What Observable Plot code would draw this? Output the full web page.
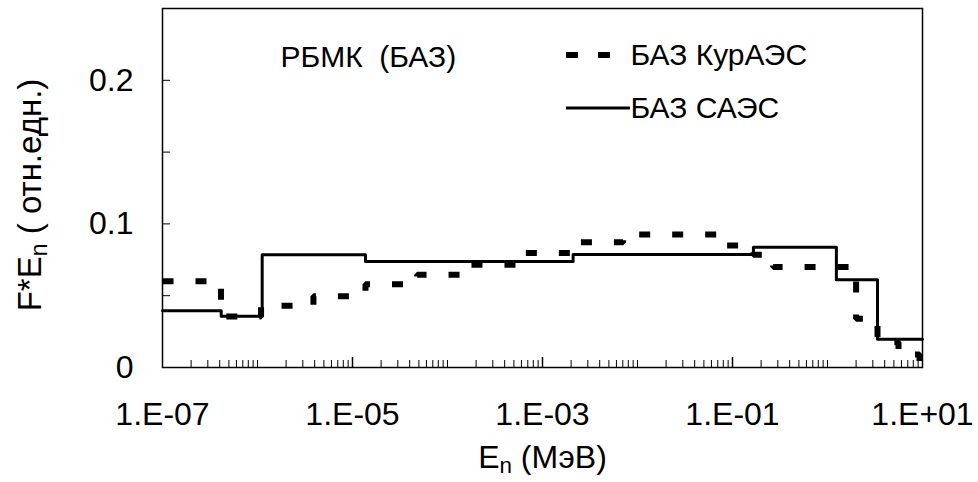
<!DOCTYPE html>
<html><head><meta charset="utf-8">
<script src="https://cdn.jsdelivr.net/npm/d3@7"></script>
<script src="https://cdn.jsdelivr.net/npm/@observablehq/plot@0.6"></script>
<style>body{margin:0;background:#fff} svg{display:block}</style>
</head><body><div id="chart"></div>
<script>
// ---- data ----
// group boundaries (MeV) and values of the step spectra
const edgesKur  = [1e-7, 4.13e-7, 1.09e-6, 3.88e-6, 1.37e-5, 4.8e-5, 1.66e-4, 5.86e-4, 2.06e-3, 7.06e-3, 0.0865, 0.166, 0.268, 2.0, 3.36, 5.59, 9.3, 10];
const valuesKur = [0.060, 0.0355, 0.043, 0.0497, 0.058, 0.0646, 0.0716, 0.0797, 0.0873, 0.0927, 0.085, 0.0785, 0.070, 0.034, 0.0176, 0.009, 0.004];
const edgesSaes  = [1e-7, 4.15e-7, 1.12e-6, 1.37e-5, 2.1e-3, 0.166, 1.24, 3.36, 10];
const valuesSaes = [0.0395, 0.0357, 0.0785, 0.0739, 0.0787, 0.0838, 0.0611, 0.0197];
const seriesNames = ["БАЗ КурАЭС", "БАЗ САЭС"];
const annotation = "РБМК\u00a0 (БАЗ)";
const xTitle = "E_n (МэВ)";
const yTitle = "F*E_n ( отн.едн.)";
const xLabelTicks = [1e-7, 1e-5, 1e-3, 1e-1, 1e1];
const xMajorInner = [1e-5, 1e-3, 1e-1];
const yLabelTicks = [0, 0.1, 0.2];
const yTickMarks = [0.05, 0.1, 0.15, 0.2];
const xDomain = [1e-7, 10];
const yDomain = [0, 0.25];

// ---- layout ----
const W = 978, H = 482, mL = 162, mR = 56, mT = 8, mB = 115;
const plotW = W - mL - mR, plotH = H - mT - mB;

function steps(edges, values) {
  return values.map((v, i) => ({x: edges[i], y: v}))
    .concat([{x: edges[edges.length - 1], y: values[values.length - 1]}]);
}
const minorX = [];
for (let d = -7; d <= 0; d++) {
  for (let k = 2; k <= 9; k++) minorX.push(+(k * Math.pow(10, d)).toPrecision(3));
  if (d > -7 && d % 2 === 0) minorX.push(Math.pow(10, d));
}
const fmtX = v => {
  const e = Math.round(Math.log10(v));
  return "1.E" + (e < 0 ? "-" : "+") + String(Math.abs(e)).padStart(2, "0");
};

const font = "'Liberation Sans', Arial, Helvetica, sans-serif";
const chart = Plot.plot({
  width: W, height: H,
  marginLeft: mL, marginRight: mR, marginTop: mT, marginBottom: mB,
  x: {type: "log", domain: xDomain, axis: null},
  y: {domain: yDomain, axis: null},
  style: {fontFamily: font, background: "#fff", color: "#000"},
  marks: [
    Plot.ruleX(minorX, {insetTop: plotH - 7, stroke: "#000", strokeWidth: 1}),
    Plot.ruleX(xMajorInner, {insetTop: plotH - 10, stroke: "#000", strokeWidth: 1.5}),
    Plot.ruleY(yTickMarks, {insetRight: plotW - 8, stroke: "#000", strokeWidth: 1}),
    Plot.line(steps(edgesSaes, valuesSaes), {x: "x", y: "y", curve: "step-after", stroke: "#000", strokeWidth: 3}),
    Plot.line(steps(edgesKur, valuesKur), {x: "x", y: "y", curve: "step-after", stroke: "#000", strokeWidth: 6,
      strokeDasharray: "11,22", strokeLinecap: "butt", strokeLinejoin: "miter"}),
    Plot.frame({stroke: "#000", strokeWidth: 1.5}),
    Plot.text(xLabelTicks, {x: d => d, frameAnchor: "bottom", dy: 47, text: fmtX, fontSize: 32, lineAnchor: "middle", fill: "#000"}),
    Plot.text(yLabelTicks, {y: d => d, frameAnchor: "left", dx: -29, text: d => String(d), textAnchor: "end", fontSize: 32, fill: "#000"}),
    Plot.text([xTitle], {frameAnchor: "bottom", dy: 90, text: d => d, textAnchor: "middle", lineAnchor: "middle", fontSize: 32, fill: "#000"}),
    Plot.text([yTitle], {frameAnchor: "left", dx: -132, dy: 7, rotate: -90, text: d => d, textAnchor: "middle", lineAnchor: "middle", fontSize: 33, fill: "#000"}),
    Plot.text([annotation], {frameAnchor: "top-left", dx: 118, dy: 49, text: d => d, textAnchor: "start", lineAnchor: "middle", fontSize: 30, fill: "#000"}),
    Plot.text([seriesNames[0]], {frameAnchor: "top-left", dx: 468, dy: 47, text: d => d, textAnchor: "start", lineAnchor: "middle", fontSize: 30, fill: "#000"}),
    Plot.text([seriesNames[1]], {frameAnchor: "top-left", dx: 468, dy: 100, text: d => d, textAnchor: "start", lineAnchor: "middle", fontSize: 30, fill: "#000"})
  ]
});

// legend samples
const svg = d3.select(chart);
const lg = svg.append("g");
lg.append("line").attr("x1", 566).attr("x2", 630).attr("y1", 55).attr("y2", 55)
  .attr("stroke", "#000").attr("stroke-width", 6).attr("stroke-dasharray", "12,20");
lg.append("line").attr("x1", 566).attr("x2", 630).attr("y1", 108).attr("y2", 108)
  .attr("stroke", "#000").attr("stroke-width", 3);

// subscripts
svg.selectAll("text").each(function() {
  const t = this.textContent;
  if (t.includes("_n")) {
    const [a, b] = t.split("_n");
    const s = d3.select(this);
    s.text(null);
    s.append("tspan").text(a);
    s.append("tspan").attr("dy", "0.25em").attr("font-size", "0.7em").text("n");
    s.append("tspan").attr("dy", "-0.18em").text(b);
  }
});

document.getElementById("chart").appendChild(chart);
</script>
</body></html>
